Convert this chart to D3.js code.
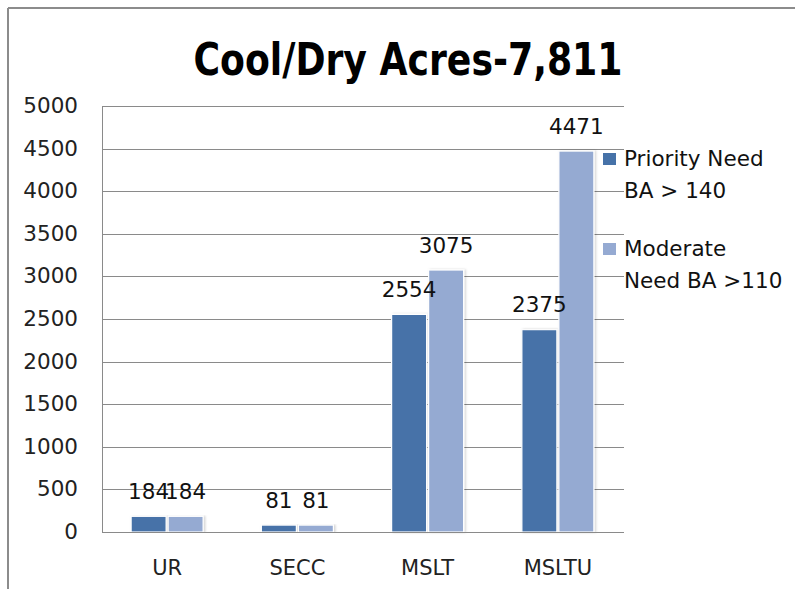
<!DOCTYPE html>
<html><head><meta charset="utf-8">
<script src="https://cdn.jsdelivr.net/npm/d3@7"></script>
<style>html,body{margin:0;padding:0;background:#fff;}svg{display:block;}</style>
</head><body>
<script>
const categories = ["UR", "SECC", "MSLT", "MSLTU"];
const seriesNames = ["Priority Need BA > 140", "Moderate Need BA >110"];
const legendLines = [["Priority Need", "BA > 140"], ["Moderate", "Need BA >110"]];
const priorityValues = [184, 81, 2554, 2375];
const moderateValues = [184, 81, 3075, 4471];
const yTicks = [0, 500, 1000, 1500, 2000, 2500, 3000, 3500, 4000, 4500, 5000];
const colors = ["#4672A8", "#95AAD2"];
const chartTitle = "Cool/Dry Acres-7,811";

(function(){
const W = 795, H = 589;
const svg = d3.select("body").append("svg").attr("width", W).attr("height", H);
const font = "DejaVu Sans, sans-serif";

const defs = svg.append("defs");
const f = defs.append("filter").attr("id","sh").attr("x","-20%").attr("y","-5%").attr("width","140%").attr("height","110%");
f.append("feDropShadow").attr("dx",1.5).attr("dy",0).attr("stdDeviation",1).attr("flood-color","#000").attr("flood-opacity",0.18);

// frame
svg.append("line").attr("x1",8).attr("x2",W).attr("y1",8).attr("y2",8).attr("stroke","#8c8c8c").attr("stroke-width",2);
svg.append("line").attr("x1",8).attr("x2",8).attr("y1",8).attr("y2",H).attr("stroke","#8c8c8c").attr("stroke-width",2);

const pLeft = 102, pRight = 623, pTop = 106, pBottom = 532;
const y = d3.scaleLinear().domain([0, 5000]).range([pBottom, pTop]);
const x0 = d3.scaleBand().domain(categories).range([pLeft, pRight]).padding(0);
const x1 = d3.scaleBand().domain([0,1]).range([0, x0.bandwidth()]).paddingInner(0.054).paddingOuter(0.787);

// gridlines
svg.append("g").selectAll("line").data(yTicks.filter(d=>d>0)).join("line")
  .attr("x1", pLeft).attr("x2", pRight+1).attr("y1", d=>Math.round(y(d))+0.5).attr("y2", d=>Math.round(y(d))+0.5)
  .attr("stroke", "#8a8a8a").attr("stroke-width", 1);

// y axis labels
const yAxis = d3.axisLeft(y).tickValues(yTicks).tickFormat(d3.format("d")).tickSize(0).tickPadding(24);
const ya = svg.append("g").attr("transform", `translate(${pLeft},0)`).call(yAxis);
ya.select(".domain").remove();
ya.selectAll("text").attr("font-family", font).attr("font-size", 21.5).attr("fill", "#222").attr("dy","0.3em");

// bars
const data = categories.map((c,i)=>({c, v:[priorityValues[i], moderateValues[i]]}));
const g = svg.append("g");
data.forEach(d=>{
  d.v.forEach((v,s)=>{
    g.append("rect")
      .attr("x", x0(d.c)+x1(s)).attr("width", x1.bandwidth())
      .attr("y", y(v)).attr("height", pBottom - y(v))
      .attr("fill", colors[s]).attr("stroke","#ffffff").attr("stroke-width",1.2)
      .attr("filter","url(#sh)");
  });
});
// labels
data.forEach(d=>{
  d.v.forEach((v,s)=>{
    svg.append("text").attr("x", x0(d.c)+x1(s)+x1.bandwidth()/2).attr("y", y(v)-17.5)
      .attr("text-anchor","middle").attr("font-family",font).attr("font-size",21.5).attr("fill","#111")
      .text(v);
  });
});

// axes lines
svg.append("line").attr("x1",pLeft+0.5).attr("x2",pLeft+0.5).attr("y1",pTop).attr("y2",pBottom).attr("stroke","#8a8a8a");
svg.append("line").attr("x1",pLeft).attr("x2",pRight+1).attr("y1",pBottom+0.5).attr("y2",pBottom+0.5).attr("stroke","#8a8a8a");

// x axis
const xAxis = d3.axisBottom(x0).tickSize(0).tickPadding(0);
const xa = svg.append("g").attr("transform", `translate(0,${pBottom})`).call(xAxis);
xa.select(".domain").remove();
xa.selectAll("text").attr("font-family",font).attr("font-size",21).attr("fill","#222").attr("dy",null).attr("y",43);

// title
svg.append("text").attr("x", 408).attr("y", 75).attr("text-anchor","middle")
  .attr("font-family","DejaVu Sans Condensed, DejaVu Sans, sans-serif").attr("font-weight","bold").attr("font-size",45)
  .attr("textLength",429).attr("lengthAdjust","spacingAndGlyphs").attr("fill","#000").text(chartTitle);

// legend
const lg = svg.append("g");
legendLines.forEach((lines,i)=>{
  const by = 153 + i*90;
  lg.append("rect").attr("x",603).attr("y",by).attr("width",13).attr("height",12).attr("fill",colors[i]);
  lines.forEach((t,j)=>{
    lg.append("text").attr("x",624).attr("y",by+13+j*32).attr("font-family",font).attr("font-size",21.5).attr("fill","#111").text(t);
  });
});
})();
</script>
</body></html>
